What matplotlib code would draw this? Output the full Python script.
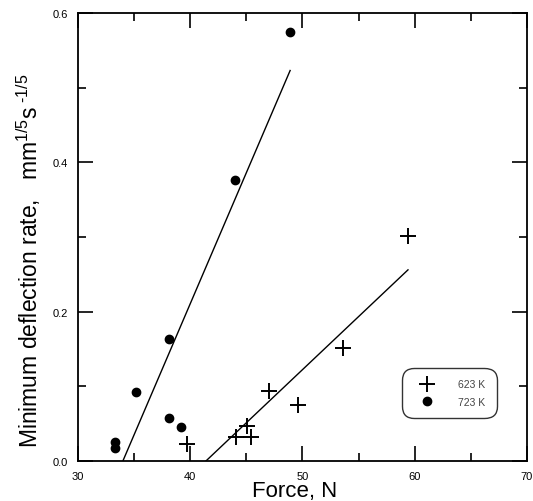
import matplotlib
matplotlib.use("Agg")
import matplotlib.pyplot as plt
from matplotlib.ticker import MultipleLocator

plt.rcParams["font.family"] = ["Liberation Sans", "DejaVu Sans"]
plt.rcParams["mathtext.fontset"] = "custom"
plt.rcParams["mathtext.rm"] = "Liberation Sans"
plt.rcParams["mathtext.it"] = "Liberation Sans"
plt.rcParams["mathtext.default"] = "rm"

# ---- data ----
force_723 = [33.3, 33.3, 35.2, 38.1, 38.1, 39.2, 44.0, 48.9]
rate_723 = [0.025, 0.018, 0.093, 0.164, 0.058, 0.046, 0.376, 0.574]
fit_723_x = [34.0, 48.9]
fit_723_y = [0.0, 0.523]

force_623 = [39.7, 44.1, 45.1, 45.4, 47.0, 49.6, 53.6, 59.4]
rate_623 = [0.023, 0.032, 0.047, 0.032, 0.094, 0.075, 0.151, 0.301]
fit_623_x = [41.4, 59.4]
fit_623_y = [0.0, 0.256]

x_ticks = [30, 40, 50, 60, 70]
y_ticks = [0.0, 0.2, 0.4, 0.6]

fig = plt.figure(figsize=(5.33, 5.02), dpi=100)
ax = fig.add_axes([0.1463, 0.0797, 0.8424, 0.8924])

ax.plot(fit_723_x, fit_723_y, color="black", linewidth=1.0)
ax.plot(fit_623_x, fit_623_y, color="black", linewidth=1.0)
ax.plot(force_623, rate_623, linestyle="none", marker="+", markersize=11,
        markeredgewidth=1.4, color="black", label="623 K")
ax.plot(force_723, rate_723, linestyle="none", marker="o", markersize=6,
        color="black", label="723 K")

ax.set_xlim(30, 70)
ax.set_ylim(0.0, 0.6)
ax.set_xticks(x_ticks)
ax.set_yticks(y_ticks)
ax.set_xticklabels([str(v) for v in x_ticks])
ax.set_yticklabels([f"{v:.1f}" for v in y_ticks])
ax.xaxis.set_minor_locator(MultipleLocator(5))
ax.yaxis.set_minor_locator(MultipleLocator(0.1))
ax.tick_params(which="both", direction="in", top=True, right=True,
               labelsize=8, width=1.2, pad=7)
ax.tick_params(which="major", length=11)
ax.tick_params(which="minor", length=6)
for s in ax.spines.values():
    s.set_linewidth(1.3)

ax.set_xlabel("Force, N", fontsize=16)
ax.set_ylabel(r"Minimum deflection rate,   mm$^{1/5}$s$^{\ \text{-}1/5}$",
              fontsize=16.5)
ax.xaxis.set_label_coords(0.483, -0.043)
ax.yaxis.set_label_coords(-0.077, 0.45)

leg = ax.legend(loc="lower left", bbox_to_anchor=(0.728, 0.102), fontsize=7.5,
                frameon=True, fancybox=True, edgecolor="black",
                handletextpad=1.7, handlelength=2.6, borderpad=0.8,
                labelspacing=0.75, borderaxespad=0)
leg.get_frame().set_linewidth(1.0)
leg.get_frame().set_boxstyle("round", pad=0.3, rounding_size=1.2)
for t in leg.get_texts():
    t.set_color("#444444")

fig.savefig("out.png", dpi=100)
